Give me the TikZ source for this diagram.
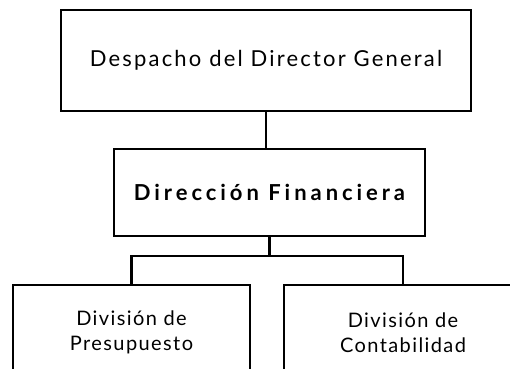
\documentclass[tikz,border=0pt]{standalone}
\usepackage{fontspec}
\setmainfont{Lato}
\newfontfamily\topfont[LetterSpace=10]{Lato}
\newfontfamily\midfont[LetterSpace=18]{Lato}
\newfontfamily\botfont[LetterSpace=7]{Lato}
\begin{document}
\begin{tikzpicture}[x=1pt,y=-1pt,
  box/.style={draw=black,line width=2.2pt,fill=white,inner sep=0pt,align=center},
  conn/.style={draw=black,line width=2.2pt}]
\useasboundingbox (0,0) rectangle (510,368);
\clip (0,0) rectangle (510,368);
\node[box,minimum width=410pt,minimum height=101pt,font=\topfont\fontsize{22}{26}\selectfont] (top) at (266,60.5) {Despacho del Director General};
\node[box,minimum width=311pt,minimum height=87pt,font=\midfont\fontsize{22}{26}\selectfont\bfseries] (mid) at (269.5,192.5) {Dirección Financiera};
\node[box,minimum width=237pt,minimum height=95pt,font=\botfont\fontsize{20}{25}\selectfont] (left) at (131.5,332.5) {División de\\Presupuesto};
\node[box,minimum width=238pt,minimum height=95pt,font=\botfont\fontsize{20}{25}\selectfont] (right) at (403,332.5) {División de\\Contabilidad};
\coordinate (j) at (269.5,256);
\draw[conn] (top.south) -- (top.south |- mid.north);
\draw[conn] (mid.south) -- (j);
\draw[conn] (left.north) |- (j) -| (right.north);
\end{tikzpicture}
\end{document}
